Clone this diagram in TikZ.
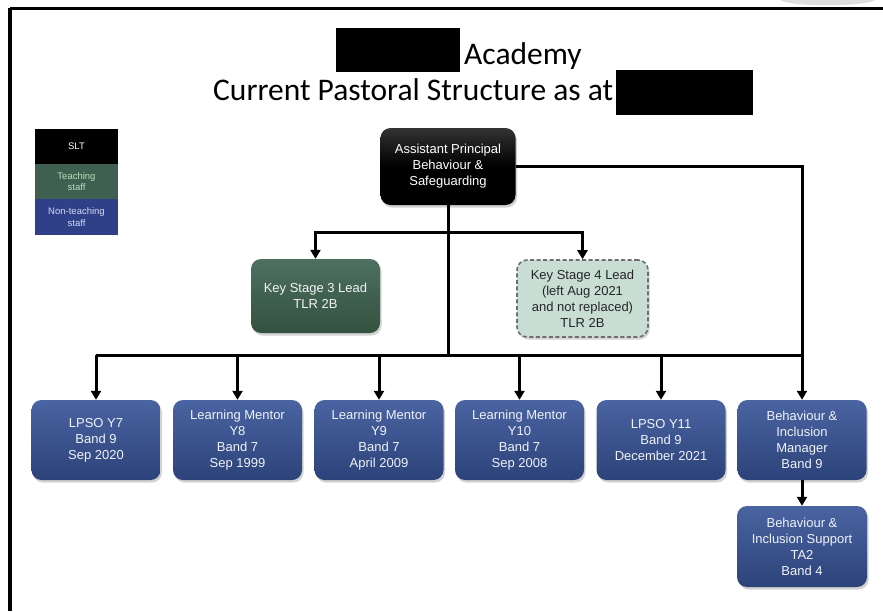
\documentclass[tikz,border=0pt]{standalone}
\usepackage{fontspec}
\setmainfont{Liberation Sans}
\newfontfamily\titlefont{Carlito}
\usetikzlibrary{arrows.meta,shadows,calc}
\definecolor{navyT}{HTML}{4A64A2}
\definecolor{navyB}{HTML}{2C4279}
\definecolor{greenT}{HTML}{4E7060}
\definecolor{greenB}{HTML}{33513F}
\definecolor{ksfill}{HTML}{C8DDD3}
\definecolor{ksborder}{HTML}{6E6E6E}
\definecolor{legGreen}{HTML}{3F6050}
\definecolor{legBlue}{HTML}{2F4088}
\definecolor{legGreenTxt}{HTML}{B9DDB6}
\definecolor{legBlueTxt}{HTML}{D2DAF2}
\definecolor{boxTxt}{HTML}{F0F2F8}
\definecolor{cornerGrey}{HTML}{DEDEDE}
\begin{document}
\begin{tikzpicture}[x=1pt,y=-1pt,
  box/.style={rounded corners=10pt, align=center, inner sep=0pt,
    font=\fontsize{13}{16}\selectfont,
    drop shadow={shadow xshift=1.5pt,shadow yshift=-2.5pt,opacity=0.35}},
  navybox/.style={box, top color=navyT, bottom color=navyB, text=boxTxt,
    minimum width=129pt, minimum height=80pt},
  apbox/.style={box, top color=black!80, bottom color=black, middle color=black, text=white,
    minimum width=135pt, minimum height=77pt},
  ks3box/.style={box, top color=greenT, bottom color=greenB, text=boxTxt,
    minimum width=129pt, minimum height=74pt},
  ks4box/.style={box, fill=ksfill, draw=ksborder, line width=1.6pt,
    dash pattern=on 4pt off 2.5pt, text=black!85,
    minimum width=131pt, minimum height=77pt},
  legbox/.style={inner sep=0pt, minimum width=83pt, minimum height=35.3pt,
    align=center, font=\fontsize{9.5}{11.5}\selectfont},
  redact/.style={fill=black, inner sep=0pt},
  titletext/.style={font=\titlefont\fontsize{31.5}{31.5}\selectfont, inner sep=0pt},
  line/.style={line width=3pt, black},
  arr/.style={line, -{Triangle[width=10pt,length=9pt]}},
]
\useasboundingbox (0,0) rectangle (883,611);
\fill[white] (0,0) rectangle (883,611);

% frame
\fill[cornerGrey] (780,0) .. controls (790,7) and (865,7) .. (875,0) -- cycle;
\draw[line width=3pt] (10,8) -- (883,8);
\draw[line width=3.5pt] (10,8) -- (10,611);

% title
\node[redact, minimum width=124pt, minimum height=44pt] (r1) at (398,50) {};
\node[titletext, anchor=base west] (t1) at (464,64) {Academy};
\node[titletext, anchor=base west] (t2) at (213,100) {Current Pastoral Structure as at};
\node[redact, minimum width=137pt, minimum height=45pt] (r2) at (684.5,92) {};

% legend
\node[legbox, fill=black, text=white] (slt) at (76.5,146.5) {SLT};
\node[legbox, fill=legGreen, text=legGreenTxt] (teach) at (76.5,181.8) {Teaching\\staff};
\node[legbox, fill=legBlue, text=legBlueTxt] (nonteach) at (76.5,217.1) {Non-teaching\\staff};

% boxes
\node[apbox] (ap) at (448,166.5) {Assistant Principal\\Behaviour \&\\Safeguarding};
\node[ks3box] (ks3) at (315.5,296) {Key Stage 3 Lead\\TLR 2B};
\node[ks4box] (ks4) at (582.5,298.5) {Key Stage 4 Lead\\(left Aug 2021\\and not replaced)\\TLR 2B};

\node[navybox] (b1) at (96,440) {LPSO Y7\\Band 9\\Sep 2020};
\node[navybox] (b2) at (237.5,440) {Learning Mentor\\Y8\\Band 7\\Sep 1999};
\node[navybox] (b3) at (379,440) {Learning Mentor\\Y9\\Band 7\\April 2009};
\node[navybox] (b4) at (519.5,440) {Learning Mentor\\Y10\\Band 7\\Sep 2008};
\node[navybox] (b5) at (661,440) {LPSO Y11\\Band 9\\December 2021};
\node[navybox] (b6) at (802,440) {Behaviour \&\\Inclusion\\Manager\\Band 9};
\node[navybox, minimum width=130pt, minimum height=81pt] (b7) at (802,546.5) {Behaviour \&\\Inclusion Support\\TA2\\Band 4};

% connectors
\coordinate (ksj) at (448,232);
\coordinate (busL) at (96,355);
\coordinate (busR) at (802,355);
\draw[line] (ap.south) -- (ap.south |- busL);
\draw[line] (busL) -- (busR);
\draw[arr] (ksj) -| (ks3.north);
\draw[arr] (ksj) -| (ks4.north);
\foreach \b in {b1,b2,b3,b4,b5}
  \draw[arr] (\b.north |- busL) -- (\b.north);
\draw[arr] (ap.east) -| (b6.north);
\draw[arr] (b6.south) -- (b7.north);
\end{tikzpicture}
\end{document}
